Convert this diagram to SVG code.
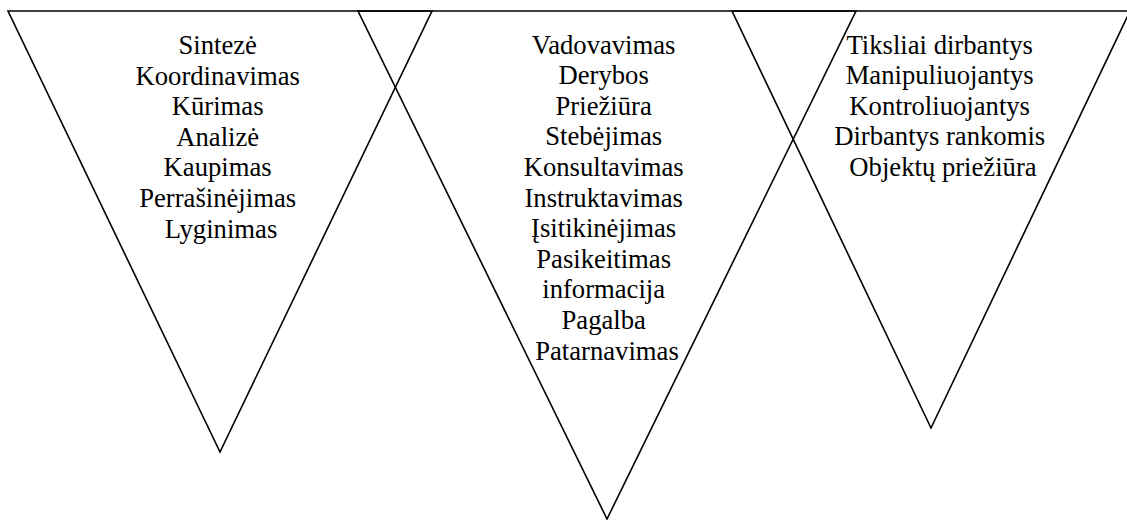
<svg xmlns="http://www.w3.org/2000/svg" width="1127" height="520" viewBox="0 0 1127 520">
<style>
.tri{fill:none;stroke:#000;stroke-width:1.6;stroke-linejoin:miter}
.lbl{font-family:"Liberation Serif","DejaVu Serif",serif;font-size:26.67px;fill:#000;text-anchor:middle}
</style>
<rect width="1127" height="520" fill="#fff"/>
<g id="connectors"></g>
<g id="node-left">
<polygon class="tri" points="8,11 432,11 220,452"/>
<text class="lbl" x="221" y="54">
<tspan x="221" y="54">Sintezė</tspan>
<tspan x="221" y="84.6">Koordinavimas</tspan>
<tspan x="221" y="115.2">Kūrimas</tspan>
<tspan x="221" y="145.8">Analizė</tspan>
<tspan x="221" y="176.4">Kaupimas</tspan>
<tspan x="221" y="207">Perrašinėjimas</tspan>
<tspan x="221" y="237.6">Lyginimas</tspan>
</text>
</g>
<g id="node-middle">
<polygon class="tri" points="358,11 856,11 607,519"/>
<text class="lbl" x="607" y="53.5">
<tspan x="607" y="53.5">Vadovavimas</tspan>
<tspan x="607" y="84.1">Derybos</tspan>
<tspan x="607" y="114.7">Priežiūra</tspan>
<tspan x="607" y="145.3">Stebėjimas</tspan>
<tspan x="607" y="175.9">Konsultavimas</tspan>
<tspan x="607" y="206.5">Instruktavimas</tspan>
<tspan x="607" y="237.1">Įsitikinėjimas</tspan>
<tspan x="607" y="267.7">Pasikeitimas</tspan>
<tspan x="607" y="298.3">informacija</tspan>
<tspan x="607" y="328.9">Pagalba</tspan>
<tspan x="607" y="359.5">Patarnavimas</tspan>
</text>
</g>
<g id="node-right">
<polygon class="tri" points="732,11 1130,11 931,428"/>
<text class="lbl" x="943" y="53.5">
<tspan x="943" y="53.5">Tiksliai dirbantys</tspan>
<tspan x="943" y="84.1">Manipuliuojantys</tspan>
<tspan x="943" y="114.7">Kontroliuojantys</tspan>
<tspan x="943" y="145.3">Dirbantys rankomis</tspan>
<tspan x="943" y="175.9">Objektų priežiūra</tspan>
</text>
</g>
</svg>
